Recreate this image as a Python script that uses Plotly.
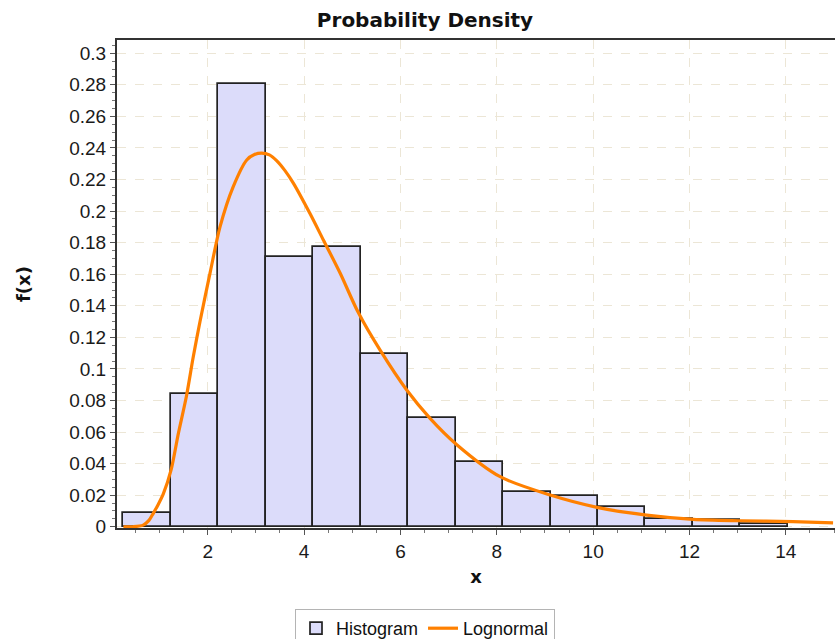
import plotly.graph_objects as go

# Histogram bins (left edges) and their density heights
bin_left = [0.25, 1.235, 2.22, 3.205, 4.19, 5.175, 6.16, 7.145,
            8.13, 9.115, 10.10, 11.085, 12.07, 13.055]
bin_width = 0.985
density = [0.0085, 0.0843, 0.2803, 0.1708, 0.1774, 0.1094, 0.0687,
           0.0408, 0.0218, 0.0196, 0.0127, 0.0049, 0.0040, 0.0015]

# Fitted lognormal curve, sampled along x
curve_x = [0.25, 0.45, 0.66, 0.78, 0.87, 0.97, 1.08, 1.24, 1.39, 1.56,
           1.70, 1.84, 2.05, 2.255, 2.53, 2.81, 2.97, 3.12, 3.28, 3.43,
           3.60, 3.78, 4.12, 4.40, 4.75, 5.12, 5.575, 6.13, 6.615, 7.17,
           8.07, 9.11, 10.08, 11.11, 12.08, 13.05, 14.15, 14.98]
curve_y = [0.0, 0.0, 0.001, 0.004, 0.0085, 0.014, 0.021, 0.036, 0.059, 0.083,
           0.1077, 0.130, 0.161, 0.190, 0.2155, 0.2324, 0.2358, 0.2367, 0.2356, 0.232,
           0.2258, 0.2176, 0.1986, 0.1817, 0.1606, 0.136, 0.112, 0.0866, 0.0687, 0.052,
           0.0317, 0.0201, 0.0123, 0.0074, 0.0047, 0.0038, 0.0032, 0.0025]

x_ticks = [2, 4, 6, 8, 10, 12, 14]
y_ticks = [0, 0.02, 0.04, 0.06, 0.08, 0.1, 0.12, 0.14, 0.16, 0.18,
           0.2, 0.22, 0.24, 0.26, 0.28, 0.3]

W, H = 835, 639
TICK_FONT = dict(family="Liberation Sans, Arial, sans-serif", size=19, color="#1a1a1a")
BOLD_FONT = "DejaVu Sans, Verdana, sans-serif"

centers = [l + bin_width / 2 for l in bin_left]

fig = go.Figure()
fig.add_trace(go.Bar(
    x=centers, y=density, width=bin_width, name="Histogram",
    marker=dict(color="#dcdcfa", line=dict(color="#222222", width=1.7)),
))
fig.add_trace(go.Scatter(
    x=curve_x, y=curve_y, mode="lines", name="Lognormal",
    line=dict(color="#ff8000", width=3.2, shape="spline", smoothing=0.8),
))

grid = dict(showgrid=True, gridcolor="#ece6d6", griddash="dash", gridwidth=1)

fig.update_layout(
    width=W, height=H,
    margin=dict(l=117, r=0, t=40, b=111),
    paper_bgcolor="white", plot_bgcolor="white",
    bargap=0,
    title=dict(text="<b>Probability Density</b>", xref="container", yref="container",
               x=425 / W, xanchor="center", y=1 - 20 / H, yanchor="middle",
               font=dict(family=BOLD_FONT, size=20, color="#111111")),
    xaxis=dict(
        range=[0.117, 15.02], tickvals=x_ticks, ticks="outside", ticklen=5,
        tickcolor="#555555", showline=True, linecolor="#333333", linewidth=2,
        mirror=True, zeroline=False, tickfont=TICK_FONT,
        minor=dict(dtick=0.5, tick0=0, ticks="outside", ticklen=3, tickcolor="#777777",
                   showgrid=False),
        title=dict(text="<b>x</b>", standoff=10,
                   font=dict(family=BOLD_FONT, size=18, color="#111111")),
        **grid,
    ),
    yaxis=dict(
        range=[-0.0008, 0.3084], tickvals=y_ticks, ticks="outside", ticklen=5,
        tickcolor="#555555", showline=True, linecolor="#333333", linewidth=2,
        zeroline=False, tickfont=TICK_FONT,
        minor=dict(dtick=0.005, tick0=0, ticks="outside", ticklen=3, tickcolor="#777777",
                   showgrid=False),
        title=dict(text="<b>f(x)</b>", standoff=34,
                   font=dict(family=BOLD_FONT, size=18, color="#111111")),
        **grid,
    ),
    showlegend=True,
    legend=dict(
        orientation="h", xref="container", yref="container",
        x=425 / W, xanchor="center", y=1 - 609 / H, yanchor="top",
        bordercolor="#b4b4b4", borderwidth=1, bgcolor="white",
        font=dict(family="Liberation Sans, Arial, sans-serif", size=18, color="#111111"),
        itemwidth=30, tracegroupgap=0,
    ),
)

fig.write_html("out.html")
